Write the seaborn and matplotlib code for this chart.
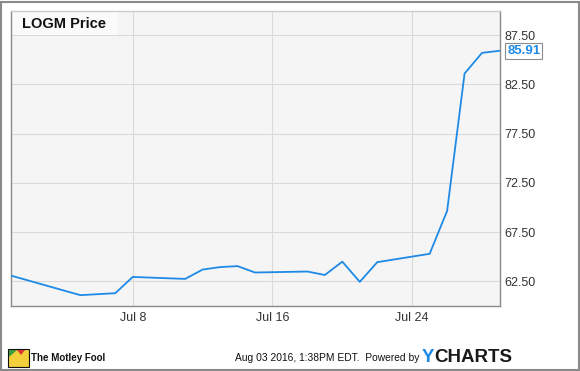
import pandas as pd
import matplotlib
matplotlib.use('Agg')
import matplotlib.pyplot as plt
from matplotlib.patches import Rectangle, Polygon
import seaborn as sns

# LOGM daily closing prices, July 2016
dates = ['2016-07-01', '2016-07-05', '2016-07-06', '2016-07-07', '2016-07-08',
         '2016-07-11', '2016-07-12', '2016-07-13', '2016-07-14', '2016-07-15',
         '2016-07-18', '2016-07-19', '2016-07-20', '2016-07-21', '2016-07-22',
         '2016-07-25', '2016-07-26', '2016-07-27', '2016-07-28', '2016-07-29']
prices = [63.1, 61.1, 61.2, 61.3, 62.95,
          62.75, 63.7, 63.95, 64.05, 63.4,
          63.5, 63.15, 64.5, 62.45, 64.45,
          65.3, 69.65, 83.6, 85.7, 85.91]

ytick_vals = [62.5, 67.5, 72.5, 77.5, 82.5, 87.5]
xtick_dates = ['2016-07-08', '2016-07-16', '2016-07-24']
xtick_labels = ['Jul 8', 'Jul 16', 'Jul 24']

blue = '#1e8ae6'
W, H = 580, 371

sns.set_style('white')
plt.rcParams['font.family'] = ['Liberation Sans', 'DejaVu Sans']

df = pd.DataFrame({'date': pd.to_datetime(dates), 'price': prices})

fig = plt.figure(figsize=(W / 100, H / 100), dpi=100)
fig.patch.set_facecolor('white')
ax = fig.add_axes([10.5 / W, 1 - 306 / H, 489 / W, 295.5 / H])
ax.set_facecolor('#f5f5f5')

sns.lineplot(data=df, x='date', y='price', ax=ax, color=blue, linewidth=1.3, zorder=3)

ax.set_xlim(pd.Timestamp('2016-07-01'), pd.Timestamp('2016-07-29'))
ax.set_ylim(60, 90)
ax.set_xticks(pd.to_datetime(xtick_dates))
ax.set_xticklabels(xtick_labels)
ax.set_yticks(ytick_vals)
ax.set_yticklabels([f'{v:.2f}' for v in ytick_vals])
ax.yaxis.tick_right()
ax.tick_params(axis='both', length=0, labelsize=9, labelcolor='#333333')
ax.tick_params(axis='y', pad=3.5)
ax.tick_params(axis='x', pad=4)
ax.set_xlabel('')
ax.set_ylabel('')
ax.grid(True, color='#dadada', linewidth=0.8)
ax.set_axisbelow(True)

for side in ['left', 'bottom', 'right']:
    ax.spines[side].set_color('#8a8a8a')
    ax.spines[side].set_linewidth(1)
ax.spines['top'].set_color('#cccccc')
ax.spines['top'].set_linewidth(1)

# title box
ax.add_patch(Rectangle((0, 1 - 24.5 / 295.5), 107.5 / 489, 24.5 / 295.5,
                       transform=ax.transAxes, facecolor='#fafafa',
                       edgecolor='none', zorder=2))
ax.text(11 / 489, 1 - 13 / 295.5, 'LOGM Price', transform=ax.transAxes,
        fontsize=10.5, fontweight='bold', color='#111111', va='center', ha='left', zorder=4)

# last value label
ax.annotate(f'{prices[-1]:.2f}', xy=(pd.Timestamp(dates[-1]), prices[-1]),
            xytext=(5.5, 0), textcoords='offset points', va='center', ha='left',
            color=blue, fontweight='bold', fontsize=9.5, annotation_clip=False,
            bbox=dict(boxstyle='square,pad=0.15', fc='white', ec='#8c8c8c', lw=0.8))

# outer border
fig.add_artist(Rectangle((1 / W, 1 / H), (W - 2) / W, (H - 2.5) / H,
                         transform=fig.transFigure, fill=False,
                         edgecolor='#8a8a8a', linewidth=1.5))

# footer: logo + texts
fig.add_artist(Rectangle((8 / W, 1 - 367 / H), 21 / W, 18 / H, transform=fig.transFigure,
                         facecolor='#f2cf3b', edgecolor='#111111', linewidth=0.8))
fig.add_artist(Polygon([(9 / W, 1 - 350 / H), (17 / W, 1 - 350 / H), (9 / W, 1 - 357 / H)],
                       closed=True, transform=fig.transFigure, facecolor='#3a9c3a', edgecolor='none'))
fig.add_artist(Polygon([(17 / W, 1 - 350 / H), (25 / W, 1 - 350 / H), (21 / W, 1 - 355 / H)],
                       closed=True, transform=fig.transFigure, facecolor='#d63a2f', edgecolor='none'))
fig.text(31 / W, 1 - 358 / H, 'The Motley Fool', fontsize=7, fontweight='bold',
         color='#111111', va='center', ha='left')
fig.text(419 / W, 1 - 358 / H, 'Aug 03 2016, 1:38PM EDT.  Powered by', fontsize=7.4,
         color='#111111', va='center', ha='right')
fig.text(422 / W, 1 - 357 / H, 'Y', fontsize=13.5, fontweight='bold',
         color=blue, va='center', ha='left')
fig.text(434.5 / W, 1 - 357 / H, 'CHARTS', fontsize=13.5, fontweight='bold',
         color='#1a1a1a', va='center', ha='left')

fig.savefig('out.png', dpi=100)
